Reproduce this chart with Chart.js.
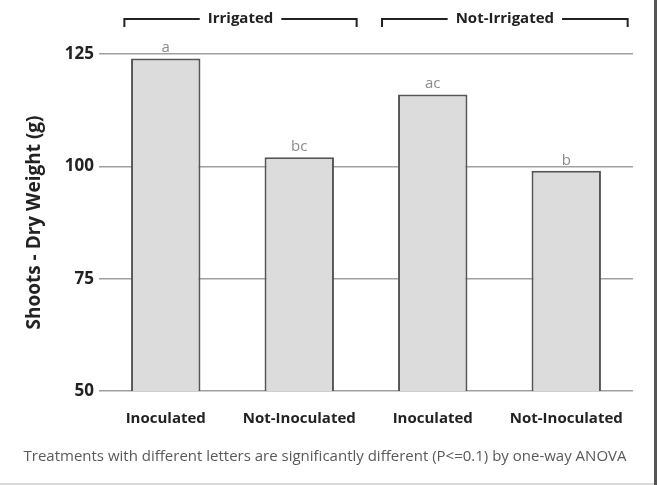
<!DOCTYPE html>
<html>
<head>
<meta charset="utf-8">
<script src="https://cdn.jsdelivr.net/npm/chart.js@4.4.1/dist/chart.umd.min.js"></script>
<style>
  html, body { margin: 0; padding: 0; background: #fff; }
  #wrap { width: 657px; height: 485px; }
</style>
</head>
<body>
<div id="wrap"><canvas id="chart" width="657" height="485"></canvas></div>
<script>
// treatments along the x axis
const categories = ["Inoculated", "Not-Inoculated", "Inoculated", "Not-Inoculated"];
// shoot dry weight (g)
const dryWeight = [124, 102, 116, 99];
// significance letters over the bars
const letters = ["a", "bc", "ac", "b"];
// y axis
const yTicks = [50, 75, 100, 125];
// groups shown by the brackets on top
const groupLabels = ["Irrigated", "Not-Irrigated"];
const groupMembers = [[0, 1], [2, 3]];
const footnote = "Treatments with different letters are significantly different (P<=0.1) by one-way ANOVA";

const FONT = "'Open Sans', sans-serif";

// letters, brackets, footnote and page edges
const extrasPlugin = {
  id: "extras",
  afterDatasetsDraw(chart) {
    const ctx = chart.ctx;
    const x = chart.scales.x;
    const meta = chart.getDatasetMeta(0);

    // letters over bars
    ctx.save();
    ctx.fillStyle = "#8a8a8a";
    ctx.font = "15px " + FONT;
    ctx.textAlign = "center";
    ctx.textBaseline = "bottom";
    meta.data.forEach((bar, i) => {
      ctx.fillText(letters[i], bar.x, bar.y - 3);
    });
    ctx.restore();

    // brackets
    const w = x.getPixelForValue(1) - x.getPixelForValue(0);
    const insets = [[0.31, 0.43], [0.38, 0.46]];
    ctx.save();
    ctx.strokeStyle = "#222";
    ctx.lineWidth = 2;
    ctx.fillStyle = "#222";
    ctx.font = "bold 15px " + FONT;
    ctx.textAlign = "center";
    ctx.textBaseline = "middle";
    const by = 19;
    groupMembers.forEach((g, gi) => {
      const left = x.getPixelForValue(g[0]) - insets[gi][0] * w;
      const right = x.getPixelForValue(g[g.length - 1]) + insets[gi][1] * w;
      const mid = (left + right) / 2;
      const half = ctx.measureText(groupLabels[gi]).width / 2 + 8;
      ctx.beginPath();
      ctx.moveTo(left, by + 8);
      ctx.lineTo(left, by);
      ctx.lineTo(mid - half, by);
      ctx.moveTo(mid + half, by);
      ctx.lineTo(right, by);
      ctx.lineTo(right, by + 8);
      ctx.stroke();
      ctx.fillText(groupLabels[gi], mid, by);
    });
    ctx.restore();

    // footnote
    ctx.save();
    ctx.fillStyle = "#595959";
    ctx.font = "15px " + FONT;
    ctx.textAlign = "center";
    ctx.textBaseline = "middle";
    ctx.fillText(footnote, 325, 457);
    ctx.restore();

    // frame edges
    ctx.save();
    ctx.fillStyle = "#555";
    ctx.fillRect(chart.width - 3, 0, 3, chart.height);
    ctx.fillStyle = "#d9d9d9";
    ctx.fillRect(0, chart.height - 2, chart.width - 3, 2);
    ctx.restore();
  }
};

new Chart(document.getElementById("chart"), {
  type: "bar",
  data: {
    labels: categories,
    datasets: [{
      data: dryWeight,
      backgroundColor: "#dcdcdc",
      borderColor: "#555",
      borderWidth: 2,
      borderSkipped: false,
      barPercentage: 0.52,
      categoryPercentage: 1.0
    }]
  },
  options: {
    responsive: false,
    animation: false,
    layout: { padding: { top: 54, right: 24, left: 23, bottom: 0 } },
    plugins: {
      legend: { display: false },
      tooltip: { enabled: false }
    },
    scales: {
      x: {
        grid: { display: false, drawTicks: false },
        border: { display: false },
        ticks: {
          color: "#222",
          font: { family: FONT, size: 15, weight: "bold" },
          padding: 19,
          maxRotation: 0
        },
        afterFit(scale) { scale.height = 94; }
      },
      y: {
        min: yTicks[0],
        max: yTicks[yTicks.length - 1],
        afterBuildTicks(scale) { scale.ticks = yTicks.map(v => ({ value: v })); },
        grid: { color: "#a0a0a0", lineWidth: 1.5, drawTicks: false },
        border: { display: false },
        ticks: {
          color: "#222",
          font: { family: FONT, size: 17, weight: "bold" },
          padding: 5
        },
        title: {
          display: true,
          text: "Shoots - Dry Weight (g)",
          color: "#222",
          font: { family: FONT, size: 19, weight: "bold" },
          padding: 0
        },
        afterFit(scale) { scale.width = 76; }
      }
    }
  },
  plugins: [extrasPlugin]
});
</script>
</body>
</html>
